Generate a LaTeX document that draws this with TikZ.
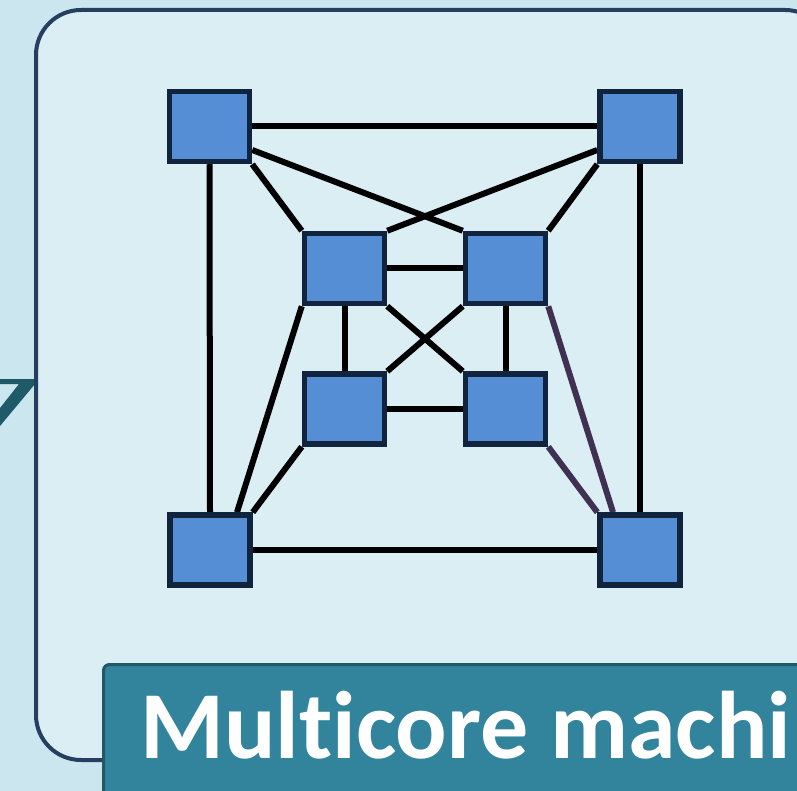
\documentclass[tikz,border=0pt]{standalone}
\usepackage{fontspec}
\setmainfont{Carlito}[Ligatures={NoCommon,NoContextual}]
\usetikzlibrary{backgrounds}
\definecolor{bgout}{HTML}{CBE6EE}
\definecolor{bgin}{HTML}{DBEEF4}
\definecolor{framecol}{HTML}{243F60}
\definecolor{corefill}{HTML}{558ED5}
\definecolor{coreline}{HTML}{10243E}
\definecolor{labfill}{HTML}{31849B}
\definecolor{labline}{HTML}{215968}
\definecolor{arrowcol}{HTML}{1F5A68}
\definecolor{linkpurple}{HTML}{403152}
\begin{document}
\begin{tikzpicture}[x=1pt,y=-1pt,
  core/.style={draw=coreline, fill=corefill, line width=5.5pt, minimum width=80pt, minimum height=70pt, inner sep=0pt},
  link/.style={line width=6pt, draw=black},
  plink/.style={line width=6pt, draw=linkpurple}]
\useasboundingbox (0,0) rectangle (797,791);
% cores
\node[core] (TL) at (209.5,126.5) {};
\node[core] (TR) at (640,126.5) {};
\node[core] (UL) at (344.5,268.5) {};
\node[core] (UR) at (505.5,268.5) {};
\node[core] (LL) at (344.5,409) {};
\node[core] (LR) at (505.5,409) {};
\node[core] (BL) at (210,550) {};
\node[core] (BR) at (640,550) {};
\begin{pgfonlayer}{background}
  \fill[bgout] (0,0) rectangle (797,791);
  \fill[arrowcol] (0,379) -- (35,379) -- (35,384) -- (0,426) -- (0,408) -- (19,384) -- (0,384) -- cycle;
  \draw[framecol, fill=bgin, line width=4pt, rounded corners=45pt] (36,10) rectangle (830,760);
  \draw[link] (TL.east) -- (TR.west);
  \draw[link] (TL.south) -- (BL.north);
  \draw[link] (TR.south) -- (BR.north);
  \draw[link] (BL.east) -- (BR.west);
  \draw[link] (TL.south east) -- (UL.north west);
  \draw[link] ([yshift=-23.5pt]TL.east) -- (UR.north west);
  \draw[link] ([yshift=-23.5pt]TR.west) -- (UL.north east);
  \draw[link] (TR.south west) -- (UR.north east);
  \draw[link] (UL.east) -- (UR.west);
  \draw[link] (UL.south) -- (LL.north);
  \draw[link] (UR.south) -- (LR.north);
  \draw[link] (UL.south east) -- (LR.north west);
  \draw[link] (UR.south west) -- (LL.north east);
  \draw[link] (LL.east) -- (LR.west);
  \draw[link] ([xshift=27pt]BL.north) -- (UL.south west);
  \draw[link] (BL.north east) -- (LL.south west);
  \draw[plink] (UR.south east) -- ([xshift=-27pt]BR.north);
  \draw[plink] (LR.south east) -- (BR.north west);
\end{pgfonlayer}
% label
\draw[labline, fill=labfill, line width=3pt, rounded corners=6pt] (103.5,664.5) rectangle (860,840);
\node[anchor=base west, inner sep=0pt, text=white, font=\fontsize{96}{110}\selectfont\bfseries] (lab) at (140,758) {Mult\kern0pt icore machi};
\end{tikzpicture}
\end{document}
